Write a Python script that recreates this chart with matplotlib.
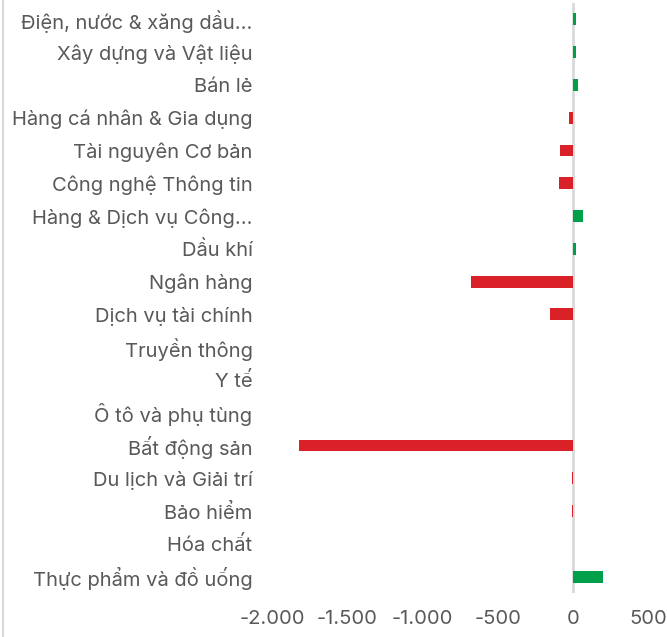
import matplotlib
matplotlib.use("Agg")
import matplotlib.pyplot as plt
from matplotlib.lines import Line2D
from matplotlib.ticker import FuncFormatter

categories = [
    "Điện, nước & xăng dầu…",
    "Xây dựng và Vật liệu",
    "Bán lẻ",
    "Hàng cá nhân & Gia dụng",
    "Tài nguyên Cơ bản",
    "Công nghệ Thông tin",
    "Hàng & Dịch vụ Công…",
    "Dầu khí",
    "Ngân hàng",
    "Dịch vụ tài chính",
    "Truyền thông",
    "Y tế",
    "Ô tô và phụ tùng",
    "Bất động sản",
    "Du lịch và Giải trí",
    "Bảo hiểm",
    "Hóa chất",
    "Thực phẩm và đồ uống",
]
values = [18, 20, 35, -27, -87, -93, 67, 20, -680, -153, 0, 0, 0, -1820, -5, -5, 0, 200]
xticks = [-2000, -1500, -1000, -500, 0, 500]

RED = "#db2128"
GREEN = "#00a04b"
TEXT = "#595959"

plt.rcParams["font.family"] = ["Inter", "DejaVu Sans"]
plt.rcParams["axes.unicode_minus"] = False

fig = plt.figure(figsize=(6.67, 6.37), dpi=100)
W, H = 667, 637
ax = fig.add_axes([272 / W, 1 - 593 / H, (667 - 272) / W, (593 - 3) / H])

n = len(categories)
ypos = list(range(n))
colors = [GREEN if v >= 0 else RED for v in values]
ax.barh(ypos, values, height=0.36, color=colors, zorder=3)

ax.set_ylim(n - 0.5, -0.5)
ax.set_xlim(-2000, 625)
ax.axvline(0, color="#d9d9d9", lw=2, zorder=2)

ax.set_yticks(ypos)
ax.set_yticklabels(categories, fontsize=14.5, color=TEXT)
ax.set_xticks(xticks)
ax.xaxis.set_major_formatter(FuncFormatter(lambda v, p: f"{int(v):,}".replace(",", ".")))
ax.tick_params(axis="x", labelsize=14.5, labelcolor=TEXT, length=0, pad=12)
ax.tick_params(axis="y", length=0, pad=14)
for s in ax.spines.values():
    s.set_visible(False)

fig.add_artist(Line2D([2.5 / W, 2.5 / W], [0, 1], color="#d9d9d9", lw=1.5, transform=fig.transFigure))

fig.savefig("out.png", dpi=100)
